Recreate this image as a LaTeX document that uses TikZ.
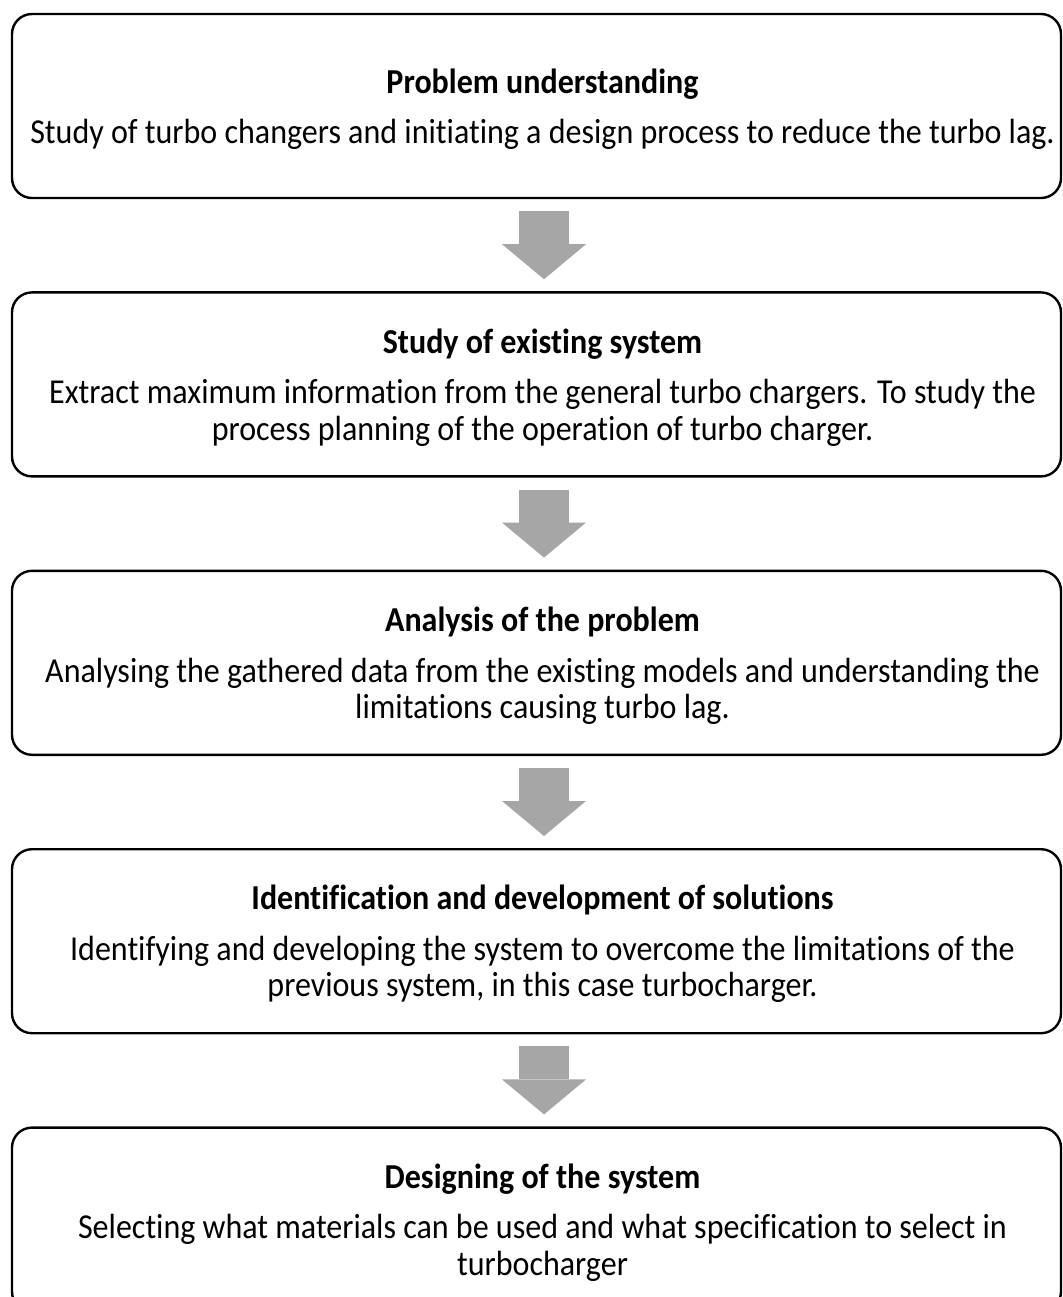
\documentclass[tikz,border=0pt]{standalone}
\usepackage{fontspec}
\setmainfont{Carlito}[FakeStretch=0.915,Ligatures=CommonOff]
\usetikzlibrary{positioning}
\usetikzlibrary{arrows.meta}
\definecolor{flowgray}{HTML}{A6A6A6}
\newcommand{\stepfont}{\fontsize{17.5}{18.25}\selectfont}
\tikzset{
  stepbox/.style={draw, line width=1.2pt, rounded corners=10pt,
    minimum width=524.5pt, minimum height=92pt, inner sep=0pt},
  steptext/.style={align=center, inner sep=0pt, font=\stepfont},
  flow/.style={draw=flowgray, line width=25pt, shorten <=6pt, shorten >=6pt,
    -{Triangle[width=42pt,length=17.5pt,line width=0pt]}}
}
\newcommand{\steptitle}[1]{\textbf{#1}\\[7pt]}

\begin{document}
\begin{tikzpicture}[x=0.5pt,y=-0.5pt]
  \useasboundingbox (0,0) rectangle (1062,1297);

  % boxes
  \node[stepbox] (s1) at (536.5,106) {};
  \node[stepbox, below=46pt of s1] (s2) {};
  \node[stepbox, below=46pt of s2] (s3) {};
  \node[stepbox, below=46pt of s3] (s4) {};
  \node[stepbox, below=46pt of s4] (s5) {};

  % texts
  \node[steptext] (t1) at ([xshift=3pt,yshift=-1.5pt]s1.center)
    {\steptitle{Problem understanding}
     Study of turbo changers and initiating a design process to reduce the turbo lag.};
  \node[steptext] (t2) at ([xshift=3pt,yshift=-1.5pt]s2.center)
    {\steptitle{Study of existing system}
     Extract maximum information from the general turbo chargers. To study the\\
     process planning of the operation of turbo charger.};
  \node[steptext] (t3) at ([xshift=3pt,yshift=-1.5pt]s3.center)
    {\steptitle{Analysis of the problem}
     Analysing the gathered data from the existing models and understanding the\\
     limitations causing turbo lag.};
  \node[steptext] (t4) at ([xshift=3pt,yshift=-1.5pt]s4.center)
    {\steptitle{Identification and development of solutions}
     Identifying and developing the system to overcome the limitations of the\\
     previous system, in this case turbocharger.};
  \node[steptext] (t5) at ([xshift=3pt,yshift=-1.5pt]s5.center)
    {\steptitle{Designing of the system}
     Selecting what materials can be used and what specification to select in\\
     turbocharger};

  % arrows
  \draw[flow] ([xshift=3.75pt]s1.south) -- ([xshift=3.75pt]s2.north);
  \draw[flow] ([xshift=3.75pt]s2.south) -- ([xshift=3.75pt]s3.north);
  \draw[flow] ([xshift=3.75pt]s3.south) -- ([xshift=3.75pt]s4.north);
  \draw[flow] ([xshift=3.75pt]s4.south) -- ([xshift=3.75pt]s5.north);
\end{tikzpicture}
\end{document}
